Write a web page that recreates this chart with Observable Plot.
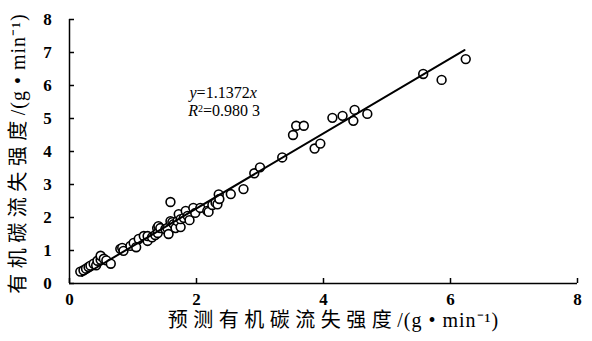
<!DOCTYPE html>
<html><head><meta charset="utf-8">
<script src="https://cdn.jsdelivr.net/npm/d3@7"></script>
<script src="https://cdn.jsdelivr.net/npm/@observablehq/plot@0.6"></script>
<style>body{margin:0;background:#fff}</style>
</head><body><div id="chart"></div>
<script>
// predicted vs observed organic carbon loss intensity (g·min^-1)
const predicted = [0.17,0.22,0.26,0.30,0.33,0.38,0.42,0.44,0.49,0.49,0.54,0.58,0.65,0.80,0.83,0.85,0.96,1.01,1.05,1.09,1.17,1.23,1.23,1.30,1.35,1.38,1.39,1.40,1.43,1.51,1.54,1.56,1.59,1.59,1.62,1.64,1.67,1.70,1.72,1.75,1.75,1.80,1.83,1.86,1.89,1.95,1.98,2.06,2.17,2.19,2.25,2.30,2.33,2.35,2.36,2.54,2.74,2.91,3.00,3.35,3.52,3.57,3.69,3.86,3.95,4.14,4.30,4.47,4.49,4.69,5.57,5.86,6.24];
const observed  = [0.36,0.40,0.45,0.50,0.54,0.60,0.55,0.69,0.72,0.84,0.75,0.70,0.60,1.05,1.08,0.99,1.14,1.23,1.10,1.35,1.44,1.29,1.44,1.40,1.47,1.68,1.53,1.74,1.68,1.65,1.68,1.50,1.89,2.47,1.86,1.80,1.68,1.89,2.10,1.71,1.95,1.99,2.20,2.05,1.92,2.29,2.14,2.29,2.20,2.17,2.38,2.45,2.40,2.70,2.56,2.71,2.86,3.34,3.52,3.82,4.50,4.78,4.78,4.09,4.24,5.02,5.08,4.93,5.26,5.14,6.35,6.17,6.80];
const xTicks = [0,2,4,6,8];
const yTicks = [0,1,2,3,4,5,6,7,8];
const slope = 1.1372;
const r2Label = "0.980 3";
const fitRange = [0.2, 6.22];
const xTitleCJK = "预测有机碳流失强度";
const yTitleCJK = "有机碳流失强度";
const unitLabel = "/(g • min⁻¹)";
const eqText = "y=" + slope.toFixed(4) + "x";
const r2Text = "R2=" + r2Label;

const points = predicted.map((p, i) => ({p, o: observed[i]}));
const fit = fitRange.map(x => ({x, y: slope * x}));
const font = "'Liberation Serif','Times New Roman','Noto Sans CJK SC',serif";

const chart = Plot.plot({
  width: 592, height: 341,
  marginLeft: 69, marginRight: 15, marginTop: 19, marginBottom: 58,
  x: {domain: [0, 8], axis: null},
  y: {domain: [0, 8], axis: null},
  style: {fontFamily: font, fontSize: "16px", color: "#000", background: "#fff"},
  marks: [
    Plot.ruleX([0], {stroke: "#000", strokeWidth: 1.5}),
    Plot.ruleY([0], {stroke: "#000", strokeWidth: 1.5}),
    Plot.tickX(xTicks, {x: d => d, insetTop: 259, stroke: "#000", strokeWidth: 1.5}),
    Plot.tickY(yTicks, {y: d => d, insetRight: 503, stroke: "#000", strokeWidth: 1.5}),
    Plot.text(xTicks, {x: d => d, frameAnchor: "bottom", dy: 16, text: d => String(d), fontWeight: "bold", fontSize: 17, lineAnchor: "middle"}),
    Plot.text(yTicks, {y: d => d, frameAnchor: "left", dx: -22, text: d => String(d), fontWeight: "bold", fontSize: 17, textAnchor: "middle", lineAnchor: "middle"}),
    Plot.dot(points, {x: "p", y: "o", r: 4.4, stroke: "#000", strokeWidth: 1.6, fill: "#fff"}),
    Plot.line(fit, {x: "x", y: "y", stroke: "#000", strokeWidth: 2}),
    Plot.text([xTitleCJK + unitLabel], {frameAnchor: "bottom", dx: 10, dy: 37, text: d => d, fontSize: 20, textAnchor: "middle", lineAnchor: "middle"}),
    Plot.text([yTitleCJK + unitLabel], {frameAnchor: "left", dx: -51, dy: 2, rotate: -90, text: d => d, fontSize: 20, textAnchor: "middle", lineAnchor: "middle"}),
    Plot.text([eqText], {x: 1.89, y: 5.77, text: d => d, textAnchor: "start", lineAnchor: "middle", fontSize: 16}),
    Plot.text([r2Text], {x: 1.87, y: 5.23, text: d => d, textAnchor: "start", lineAnchor: "middle", fontSize: 16})
  ]
});
document.getElementById("chart").appendChild(chart);
const svg = d3.select(chart);
svg.selectAll("text").each(function() {
  const t = d3.select(this);
  const s = this.textContent;
  if (s === xTitleCJK + unitLabel || s === yTitleCJK + unitLabel) {
    const cjk = s === xTitleCJK + unitLabel ? xTitleCJK : yTitleCJK;
    t.text(null);
    t.append("tspan").style("letter-spacing", "5.5px").text(cjk);
    t.append("tspan").style("letter-spacing", "1px").text(unitLabel);
  } else if (s === eqText) {
    t.text(null);
    t.append("tspan").attr("font-style", "italic").text("y");
    t.append("tspan").text("=" + slope.toFixed(4));
    t.append("tspan").attr("font-style", "italic").text("x");
  } else if (s === r2Text) {
    t.text(null);
    t.append("tspan").attr("font-style", "italic").text("R");
    t.append("tspan").attr("font-size", 10).attr("dy", "-0.45em").text("2");
    t.append("tspan").attr("dy", "0.3em").text("=" + r2Label);
  }
});
</script>
</body></html>
